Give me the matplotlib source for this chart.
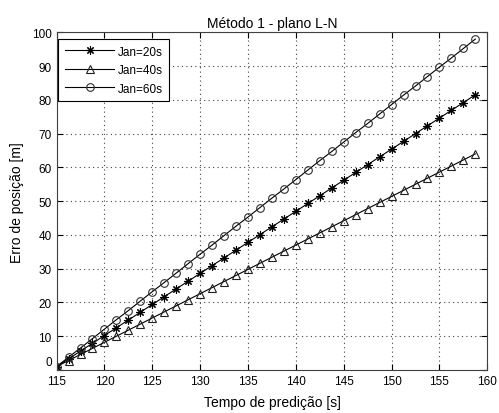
import matplotlib
matplotlib.use("Agg")
import matplotlib.pyplot as plt
import matplotlib.transforms as mtransforms

plt.rcParams['font.family'] = ['Liberation Sans', 'DejaVu Sans']

# Data (x: prediction time [s], y: position error [m])
x_tempo = [115 + 1.25 * k for k in range(36)]

erro_jan20 = [1.0, 3.3, 5.6, 7.9, 10.2, 12.5, 14.8, 17.1, 19.4, 21.7, 24.0, 26.3,
              28.6, 30.9, 33.2, 35.5, 37.8, 40.1, 42.4, 44.7, 47.0, 49.3, 51.6, 53.9,
              56.2, 58.5, 60.8, 63.1, 65.4, 67.7, 70.0, 72.3, 74.6, 76.9, 79.2, 81.5]
erro_jan40 = [1.0, 2.8, 4.6, 6.4, 8.2, 10.0, 11.8, 13.6, 15.4, 17.2, 19.0, 20.8,
              22.6, 24.4, 26.2, 28.0, 29.8, 31.6, 33.4, 35.2, 37.0, 38.8, 40.6, 42.4,
              44.2, 46.0, 47.8, 49.6, 51.4, 53.2, 55.0, 56.8, 58.6, 60.4, 62.2, 64.0]
erro_jan60 = [1.0, 3.8, 6.5, 9.3, 12.1, 14.9, 17.6, 20.4, 23.2, 25.9, 28.7, 31.5,
              34.3, 37.0, 39.8, 42.6, 45.3, 48.1, 50.9, 53.6, 56.4, 59.2, 62.0, 64.7,
              67.5, 70.3, 73.0, 75.8, 78.6, 81.4, 84.1, 86.9, 89.7, 92.4, 95.2, 98.0]

labels = ['Jan=20s', 'Jan=40s', 'Jan=60s']
xticks = [115, 120, 125, 130, 135, 140, 145, 150, 155, 160]
yticks = [0, 10, 20, 30, 40, 50, 60, 70, 80, 90, 100]

fig = plt.figure(figsize=(4.99, 4.14), dpi=100)
ax = fig.add_axes([0.1134, 0.1039, 0.8632, 0.8157])

ax.plot(x_tempo, erro_jan20, color='black', lw=0.8, marker=(8, 2, 0),
        markersize=6, markeredgewidth=0.8, markeredgecolor='black', label=labels[0])
ax.plot(x_tempo, erro_jan40, color='black', lw=0.8, marker='^',
        markersize=6, markeredgewidth=0.8, markerfacecolor='none',
        markeredgecolor='#202020', label=labels[1])
ax.plot(x_tempo, erro_jan60, color='black', lw=0.8, marker='o',
        markersize=5.5, markeredgewidth=0.8, markerfacecolor='none',
        markeredgecolor='#303030', label=labels[2])

ax.set_xlim(115, 160)
ax.set_ylim(0, 100)
ax.set_xticks(xticks)
ax.set_yticks(yticks)
ax.tick_params(direction='in', length=4, width=0.8, top=True, right=True,
               labelsize=8.5, colors='black')
ax.grid(True, linestyle=(0, (1, 3)), color='#444444', linewidth=0.8)
for s in ax.spines.values():
    s.set_color('#404040')
    s.set_linewidth(0.8)

# lift the "0" label a bit, like the reference
fig.canvas.draw()
lbl0 = ax.get_yticklabels()[0]
lbl0.set_transform(lbl0.get_transform() +
                   mtransforms.ScaledTranslation(0, 7 / 72, fig.dpi_scale_trans))

ax.set_title('Método 1 - plano L-N', fontsize=10, pad=4)
ax.set_xlabel('Tempo de predição [s]', fontsize=10, labelpad=6)
ax.set_ylabel('Erro de posição [m]', fontsize=10, labelpad=6)

leg = ax.legend(loc='upper left', bbox_to_anchor=(0.004, 0.980), borderaxespad=0,
                fancybox=False, framealpha=1, edgecolor='black', fontsize=8.5,
                handlelength=4.2, handletextpad=0.3, labelspacing=0.55,
                borderpad=0.55)
leg.get_frame().set_linewidth(0.8)

fig.savefig('out.png', dpi=100)
